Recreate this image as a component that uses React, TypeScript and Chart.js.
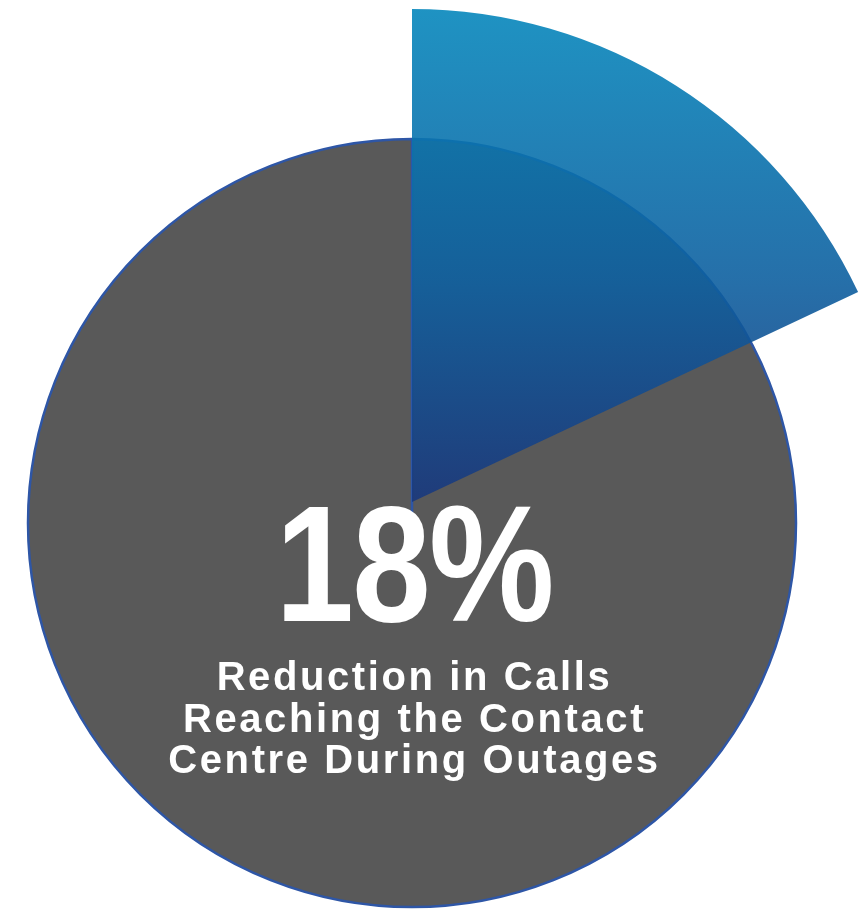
import React, { useEffect, useRef } from 'react';
import { Chart, registerables } from 'chart.js';

Chart.register(...registerables);

// ---- data ----
const categories = ['Reduction in calls reaching the contact centre', 'Remaining calls'];
const sliceValues = [18, 82];
const baseLabels = ['All calls during outages'];
const baseValues = [100];
const headline = '18%';
const captionLines = ['Reduction in Calls', 'Reaching the Contact', 'Centre During Outages'];

const W = 866;
const H = 909;
const FONT = "'Liberation Sans', Arial, Helvetica, sans-serif";

export default function App() {
  const baseRef = useRef<HTMLCanvasElement>(null);
  const sliceRef = useRef<HTMLCanvasElement>(null);

  useEffect(() => {
    const base = new Chart(baseRef.current as HTMLCanvasElement, {
      type: 'pie',
      data: {
        labels: baseLabels,
        datasets: [
          {
            data: baseValues,
            backgroundColor: '#595959',
            borderColor: '#2E56A6',
            borderWidth: 2.5,
            radius: 384,
          } as any,
        ],
      },
      options: {
        responsive: false,
        animation: false,
        events: [],
        layout: { padding: { left: 0, right: 42, top: 137, bottom: 0 } },
        plugins: { legend: { display: false }, tooltip: { enabled: false } },
      },
    });

    const slice = new Chart(sliceRef.current as HTMLCanvasElement, {
      type: 'pie',
      data: {
        labels: categories,
        datasets: [
          {
            data: sliceValues,
            backgroundColor: (c: any) => {
              if (c.dataIndex !== 0) return 'rgba(0,0,0,0)';
              const chart = c.chart;
              const a = chart.chartArea;
              if (!a) return 'rgba(20,100,160,0.9)';
              const cy = (a.top + a.bottom) / 2;
              const g = chart.ctx.createLinearGradient(0, cy - 493, 0, cy);
              g.addColorStop(0, 'rgba(6,135,188,0.9)');
              g.addColorStop(0.55, 'rgba(14,96,160,0.9)');
              g.addColorStop(1, 'rgba(25,56,125,0.9)');
              return g;
            },
            borderWidth: 0,
            radius: 493,
            clip: false,
          } as any,
        ],
      },
      options: {
        responsive: false,
        animation: false,
        events: [],
        layout: { padding: { left: 0, right: 42, top: 95, bottom: 0 } },
        plugins: { legend: { display: false }, tooltip: { enabled: false } },
      },
    });

    return () => {
      base.destroy();
      slice.destroy();
    };
  }, []);

  const canvasStyle: React.CSSProperties = {
    position: 'absolute',
    left: 0,
    top: 0,
    display: 'block',
  };

  const captionTops = [656, 698, 739];

  return (
    <div
      style={{
        position: 'absolute',
        left: 0,
        top: 0,
        width: W,
        height: H,
        overflow: 'hidden',
        background: '#ffffff',
      }}
    >
      <canvas ref={baseRef} width={W} height={H} style={canvasStyle} />
      <canvas ref={sliceRef} width={W} height={H} style={canvasStyle} />
      <div
        style={{
          position: 'absolute',
          left: 0,
          width: 828,
          top: 481,
          textAlign: 'center',
          whiteSpace: 'nowrap',
        }}
      >
        <span
          style={{
            display: 'inline-block',
            fontFamily: FONT,
            fontWeight: 700,
            fontSize: 166,
            lineHeight: '166px',
            letterSpacing: '-2px',
            color: '#ffffff',
            transform: 'scaleX(0.85)',
            transformOrigin: 'center',
          }}
        >
          {headline}
        </span>
      </div>
      {captionLines.map((line, i) => (
        <div
          key={line}
          style={{
            position: 'absolute',
            left: 0,
            width: 826,
            top: captionTops[i],
            textAlign: 'center',
            fontFamily: FONT,
            fontWeight: 700,
            fontSize: 40,
            lineHeight: '40px',
            letterSpacing: '2.6px',
            color: '#ffffff',
            whiteSpace: 'nowrap',
            paddingLeft: 3,
            boxSizing: 'border-box',
          }}
        >
          {line}
        </div>
      ))}
    </div>
  );
}
